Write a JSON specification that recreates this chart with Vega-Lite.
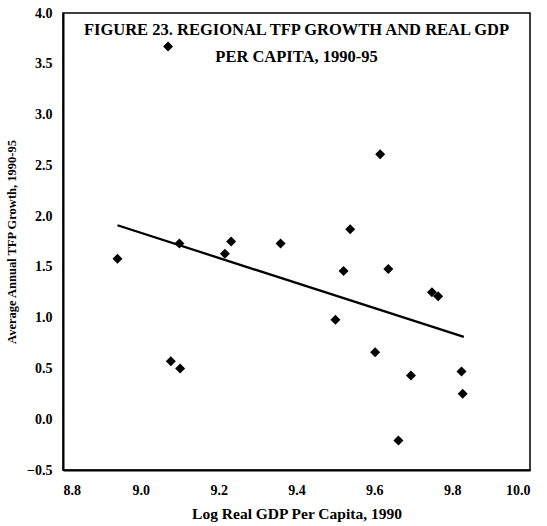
{
  "$schema": "https://vega.github.io/schema/vega-lite/v6.json",
  "width": 467,
  "height": 457,
  "autosize": {"type": "none"},
  "padding": {"left": 63, "top": 13, "right": 17, "bottom": 56},
  "background": "white",
  "title": {
    "text": ["FIGURE 23. REGIONAL TFP GROWTH AND REAL GDP", "PER CAPITA, 1990-95"],
    "anchor": "middle",
    "orient": "top",
    "offset": -59,
    "font": "Liberation Serif",
    "fontSize": 16.5,
    "fontWeight": "bold",
    "lineHeight": 27,
    "color": "black"
  },
  "config": {
    "view": {"stroke": "black", "strokeWidth": 1.5},
    "axis": {
      "labelFont": "Liberation Serif",
      "labelFontWeight": "bold",
      "labelFontSize": 14,
      "labelColor": "black",
      "titleFont": "Liberation Serif",
      "titleFontWeight": "bold",
      "titleColor": "black",
      "grid": false,
      "domainColor": "black",
      "domainWidth": 2,
      "ticks": false
    }
  },
  "datasets": {
    "points": [
      {"gdp": 9.07, "tfp": 3.67},
      {"gdp": 9.615, "tfp": 2.61},
      {"gdp": 9.538, "tfp": 1.87},
      {"gdp": 8.94, "tfp": 1.58},
      {"gdp": 9.099, "tfp": 1.73},
      {"gdp": 9.232, "tfp": 1.75},
      {"gdp": 9.216, "tfp": 1.63},
      {"gdp": 9.359, "tfp": 1.73},
      {"gdp": 9.521, "tfp": 1.46},
      {"gdp": 9.636, "tfp": 1.48},
      {"gdp": 9.748, "tfp": 1.25},
      {"gdp": 9.764, "tfp": 1.21},
      {"gdp": 9.5, "tfp": 0.98},
      {"gdp": 9.602, "tfp": 0.66},
      {"gdp": 9.077, "tfp": 0.57},
      {"gdp": 9.101, "tfp": 0.5},
      {"gdp": 9.694, "tfp": 0.43},
      {"gdp": 9.824, "tfp": 0.47},
      {"gdp": 9.827, "tfp": 0.25},
      {"gdp": 9.662, "tfp": -0.21}
    ],
    "fit": [
      {"gdp": 8.94, "tfp": 1.91},
      {"gdp": 9.83, "tfp": 0.81}
    ]
  },
  "layer": [
    {
      "mark": {"type": "rule", "color": "black", "strokeWidth": 1.5},
      "encoding": {"y": {"datum": 0, "type": "quantitative"}}
    },
    {
      "data": {"name": "fit"},
      "mark": {"type": "line", "color": "black", "strokeWidth": 2.3},
      "encoding": {
        "x": {"field": "gdp", "type": "quantitative"},
        "y": {"field": "tfp", "type": "quantitative"}
      }
    },
    {
      "data": {"name": "points"},
      "mark": {"type": "point", "shape": "diamond", "filled": true, "color": "black", "size": 100, "opacity": 1},
      "encoding": {
        "x": {
          "field": "gdp",
          "type": "quantitative",
          "scale": {"domain": [8.8, 10.0], "nice": false, "zero": false},
          "axis": {"values": [8.8, 9.0, 9.2, 9.4, 9.6, 9.8, 10.0], "format": ".1f", "title": "Log Real GDP Per Capita, 1990", "titleFontSize": 15.5, "titlePadding": 9, "labelPadding": 13}
        },
        "y": {
          "field": "tfp",
          "type": "quantitative",
          "scale": {"domain": [-0.5, 4.0], "nice": false, "zero": false},
          "axis": {"values": [-0.5, 0, 0.5, 1.0, 1.5, 2.0, 2.5, 3.0, 3.5, 4.0], "format": ".1f", "title": "Average Annual TFP Growth, 1990-95", "titleFontSize": 12.5, "titlePadding": 8, "labelPadding": 11}
        }
      }
    }
  ]
}
